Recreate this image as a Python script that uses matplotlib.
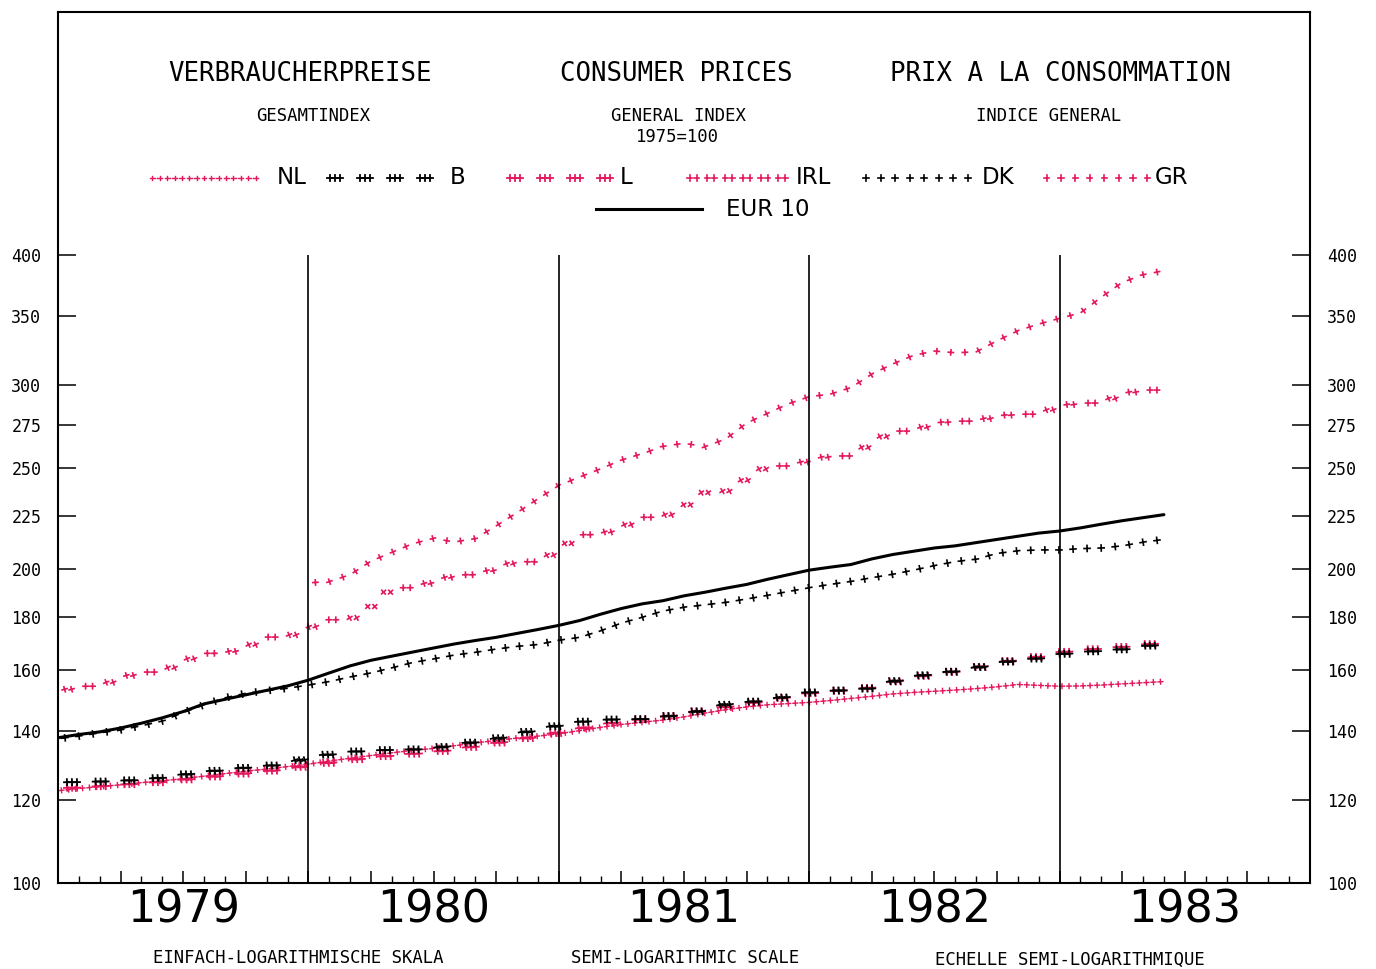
import numpy as np
import matplotlib
matplotlib.use("Agg")
import matplotlib.pyplot as plt
from matplotlib import patheffects as pe
from matplotlib.lines import Line2D
from matplotlib.ticker import NullLocator, FixedLocator

plt.rcParams["font.family"] = "DejaVu Sans Mono"

W, H = 1376, 969
RED = "#e3195c"

# month index: 0 = Jan 1979 ... 53 = Jun 1983
months = np.arange(54)
years = ["1979", "1980", "1981", "1982", "1983"]
yticks = [100, 120, 140, 160, 180, 200, 225, 250, 275, 300, 350, 400]

nl = [122.6, 123.2, 123.7, 124.2, 124.8, 125.3, 125.9, 126.6, 127.3, 128.0, 128.6, 129.3,
      130.0, 130.9, 131.7, 132.5, 133.3, 134.0, 134.6, 135.4, 136.2, 137.0, 137.7, 138.3,
      139.0, 140.0, 141.0, 141.9, 142.6, 143.3, 144.3, 145.5, 146.6, 147.5, 148.2, 148.6,
      149.0, 149.6, 150.3, 151.0, 151.8, 152.3, 152.7, 153.1, 153.6, 154.2, 155.0, 154.7,
      154.4, 154.5, 154.8, 155.2, 155.6, 156.0]
b = [124.8, 125.0, 125.1, 125.3, 125.6, 126.2, 127.0, 127.8, 128.4, 129.0, 129.5, 130.0,
     132.0, 132.8, 133.6, 133.9, 134.2, 134.3, 134.5, 135.8, 136.5, 137.5, 139.0, 140.3,
     141.6, 142.7, 143.3, 143.6, 143.6, 144.3, 145.2, 146.5, 148.3, 149.0, 149.8, 151.0,
     152.3, 152.8, 153.2, 153.7, 156.0, 157.7, 158.8, 159.6, 160.8, 162.5, 163.5, 164.2,
     165.7, 166.4, 167.0, 167.5, 168.6, 169.4]
lux = [123.2, 123.5, 123.8, 124.2, 124.6, 125.0, 125.6, 126.2, 126.8, 127.4, 128.0, 128.6,
       129.6, 130.4, 131.2, 131.9, 132.5, 133.0, 133.5, 134.3, 135.2, 136.2, 137.2, 138.2,
       139.4, 140.6, 141.8, 142.8, 143.5, 144.3, 145.3, 146.6, 147.5, 148.6, 149.6, 150.8,
       152.0, 152.6, 153.2, 154.0, 155.8, 157.4, 158.6, 159.5, 160.8, 162.6, 163.8, 164.8,
       166.4, 167.2, 167.8, 168.4, 169.2, 170.0]
irl = [152.4, 154.4, 154.4, 157.2, 159.3, 159.3, 163.0, 166.0, 166.1, 168.0, 172.1, 172.1,
       175.5, 178.8, 178.8, 184.0, 191.9, 191.9, 194.5, 197.2, 197.6, 200.0, 203.6, 203.0,
       208.5, 215.6, 216.0, 219.0, 224.2, 224.2, 229.4, 236.8, 237.5, 244.0, 251.1, 251.1,
       254.0, 256.7, 256.7, 264.0, 271.2, 271.2, 275.9, 277.2, 277.2, 280.3, 281.5, 281.5,
       286.6, 288.5, 288.5, 294.3, 296.9, 296.9]
dk = [137.5, 138.3, 139.3, 140.2, 141.5, 143.0, 145.7, 148.2, 150.5, 152.0, 152.9, 153.7,
      154.8, 156.0, 157.6, 159.0, 160.8, 162.7, 164.0, 165.4, 166.4, 167.6, 168.6, 169.3,
      170.9, 172.0, 174.5, 177.5, 179.8, 182.3, 183.8, 184.8, 185.8, 187.2, 188.7, 190.3,
      191.9, 193.3, 194.6, 196.2, 197.7, 199.5, 201.5, 203.3, 204.4, 207.0, 208.2, 208.6,
      208.6, 209.2, 209.5, 210.5, 212.2, 213.5]
# Greece from Jan 1980
gr = [194.0, 194.5, 197.5, 203.5, 207.5, 211.5, 214.0, 212.3, 213.9, 220.0, 226.5, 233.5,
      240.5, 245.0, 249.5, 254.4, 258.0, 262.2, 264.0, 262.0, 266.5, 276.0, 282.0, 288.0,
      292.6, 294.2, 298.5, 307.5, 314.5, 320.5, 323.6, 322.4, 323.0, 331.0, 338.4, 343.5,
      347.8, 352.0, 364.5, 376.5, 383.0, 386.4]
eur10 = [137.8, 138.8, 139.6, 140.8, 142.3, 144.0, 146.0, 148.5, 150.0, 151.5, 153.0, 154.5,
         156.5, 159.0, 161.5, 163.5, 165.0, 166.5, 168.0, 169.5, 170.8, 172.0, 173.5, 175.0,
         176.6, 178.5, 181.0, 183.3, 185.2, 186.5, 188.5, 190.0, 191.7, 193.3, 195.5, 197.5,
         199.5, 200.8, 202.0, 204.5, 206.5, 208.0, 209.5, 210.5, 212.0, 213.5, 215.0, 216.5,
         217.5, 219.0, 220.8, 222.5, 224.0, 225.5]


def crosses(spacing, size, offsets=(0,)):
    # plotter line type: small crosses every `spacing` px, in groups if several offsets
    fx = []
    for off in offsets:
        for ang in (0, 90, 180, 270):
            fx.append(pe.TickedStroke(offset=(off * 0.72, 0), spacing=spacing * 0.72,
                                      angle=ang, length=size / spacing))
    # how far to stretch a legend sample so its crosses fill the sample width
    inset = spacing / 2 - max(abs(o) for o in offsets) - size + 3
    return fx, inset


styles = {
    "NL": (RED, 1.0, crosses(7, 2.4)),
    "L": (RED, 1.3, crosses(28, 3.0, (-5, 0, 5))),
    "B": ("k", 1.3, crosses(28, 3.0, (-5, 0, 5))),
    "IRL": (RED, 1.2, crosses(17, 2.6, (-3.5, 3.5))),
    "DK": ("k", 1.2, crosses(14, 3.0)),
    "GR": (RED, 1.2, crosses(14, 2.6)),
}
# IRL pairs sit a month apart on the chart
styles["IRL_chart"] = (RED, 1.2, crosses(21, 2.6, (-3.5, 3.5)))

fig = plt.figure(figsize=(W / 100, H / 100), dpi=100)
ax = fig.add_axes([58 / W, 1 - 883 / H, (1310 - 58) / W, (883 - 12) / H])

series = [("NL", months, nl), ("L", months, lux), ("B", months, b),
          ("IRL_chart", months, irl), ("DK", months, dk), ("GR", months[12:], gr)]
for name, xs, ys in series:
    col, lw, (fx, _) = styles[name]
    ax.plot(xs, ys, color=col, lw=lw, path_effects=fx)
ax.plot(months, eur10, color="k", lw=2.2, solid_capstyle="round")

ax.vlines([12, 24, 36, 48], 100, 400, color="k", lw=1.2)

ax.set_yscale("log")
ax.set_xlim(0, 60)
ax.set_ylim(100, 684)
ax.yaxis.set_major_locator(FixedLocator(yticks))
ax.yaxis.set_minor_locator(NullLocator())
ax.set_yticklabels([str(v) for v in yticks])
ax.tick_params(axis="y", which="major", direction="in", length=13, width=1.1,
               left=True, right=True, labelleft=True, labelright=True,
               pad=12, labelsize=12)

ax.set_xticks(np.arange(0, 61, 3))
ax.set_xticklabels([years[q // 4] if q % 4 == 2 and q // 4 < len(years) else ""
                    for q in range(21)])
ax.set_xticks(np.arange(0, 61, 1), minor=True)
ax.tick_params(axis="x", which="major", direction="in", length=9, width=1.1,
               pad=4, labelsize=32)
ax.tick_params(axis="x", which="minor", direction="in", length=5, width=1.0)
for t in ax.get_xticklabels():
    t.set_fontfamily("DejaVu Sans")
for s in ax.spines.values():
    s.set_linewidth(1.5)


def ftext(px, py, s, size, family="DejaVu Sans Mono", ha="center"):
    fig.text(px / W, 1 - py / H, s, fontsize=size, family=family, ha=ha, va="center")


ftext(300, 74, "VERBRAUCHERPREISE", 18.5)
ftext(676, 74, "CONSUMER PRICES", 18.5)
ftext(1060, 74, "PRIX A LA CONSOMMATION", 18.5)
ftext(313, 116, "GESAMTINDEX", 12.4)
ftext(678, 116, "GENERAL INDEX", 12.4)
ftext(677, 137, "1975=100", 12.4)
ftext(1049, 116, "INDICE GENERAL", 12.4)

ftext(298, 958, "EINFACH-LOGARITHMISCHE SKALA", 12.4)
ftext(685, 958, "SEMI-LOGARITHMIC SCALE", 12.4)
ftext(1070, 960, "ECHELLE SEMI-LOGARITHMIQUE", 12.4)

# legend rows
legend = [("NL", 153, 255, 277, 178), ("B", 330, 430, 450, 178), ("L", 510, 610, 620, 178),
          ("IRL", 690, 785, 796, 178), ("DK", 866, 968, 982, 178), ("GR", 1047, 1147, 1155, 178)]
for name, x0, x1, xt, yy in legend:
    col, lw, (fx, inset) = styles[name]
    fig.add_artist(Line2D([(x0 - inset) / W, (x1 + inset) / W], [1 - yy / H] * 2,
                          transform=fig.transFigure, color=col, lw=lw, path_effects=fx))
    ftext(xt, yy, name, 16.5, family="DejaVu Sans", ha="left")
fig.add_artist(Line2D([596 / W, 702 / W], [1 - 209 / H] * 2, transform=fig.transFigure,
                      color="k", lw=2.2))
ftext(726, 209, "EUR 10", 16.5, family="DejaVu Sans", ha="left")

fig.savefig("out.png", dpi=100)
